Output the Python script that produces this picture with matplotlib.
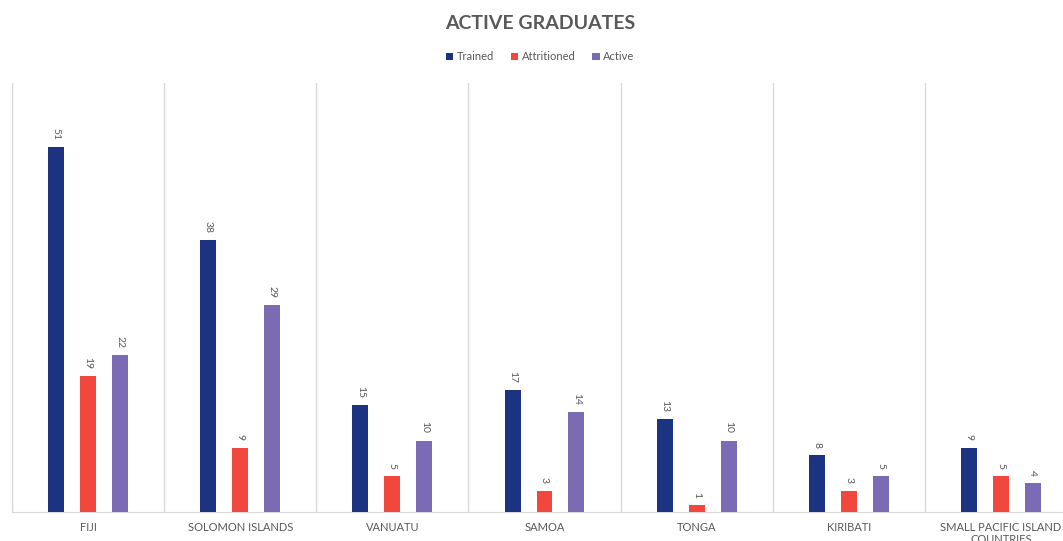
import matplotlib as mpl
import numpy as np
mpl.use('Agg')
import matplotlib.pyplot as plt

plt.rcParams['font.family'] = ['Lato', 'DejaVu Sans']

countries = ['FIJI', 'SOLOMON ISLANDS', 'VANUATU', 'SAMOA', 'TONGA', 'KIRIBATI',
             'SMALL PACIFIC ISLAND\nCOUNTRIES']
trained = [51, 38, 15, 17, 13, 8, 9]
attritioned = [19, 9, 5, 3, 1, 3, 5]
active = [22, 29, 10, 14, 10, 5, 4]

series = [('Trained', trained, '#1B3381'),
          ('Attritioned', attritioned, '#F2473D'),
          ('Active', active, '#7A6BB4')]

fig = plt.figure(figsize=(10.63, 5.41), dpi=100)
# axes runs slightly past the right edge, like the cropped original
ax = fig.add_axes([12 / 1063, 29 / 541, 1065 / 1063, 429 / 541])

x = np.arange(len(countries))
width = 0.105
offsets = [-0.21, 0, 0.21]

for (name, vals, col), off in zip(series, offsets):
    bars = ax.bar(x + off, vals, width=width, color=col, label=name, zorder=3)
    for b, v in zip(bars, vals):
        ax.text(b.get_x() + b.get_width() / 2, v + 1.0, str(v), rotation=270,
                ha='center', va='bottom', fontsize=7.5, color='#595959')

ax.set_xlim(-0.5, len(countries) - 0.5)
ax.set_ylim(0, 60)
ax.set_yticks([])
ax.set_xticks(x)
ax.set_xticklabels(countries, fontsize=8, color='#595959', linespacing=1.1)
ax.tick_params(axis='x', length=0, pad=7)

for b in np.arange(-0.5, len(countries), 1):
    ax.axvline(b, color='#D9D9D9', lw=1, zorder=1)

for s in ['top', 'right', 'left']:
    ax.spines[s].set_visible(False)
ax.spines['bottom'].set_color('#D9D9D9')

fig.text(0.508, 0.957, 'ACTIVE GRADUATES', ha='center', va='center',
         fontsize=14, fontweight='bold', color='#595959')
fig.legend(loc='center', bbox_to_anchor=(0.508, 0.895), ncol=3, frameon=False,
           fontsize=8, handlelength=0.7, handleheight=0.7, handletextpad=0.3,
           columnspacing=1.5, labelcolor='#595959')

fig.savefig('out.png', dpi=100)
